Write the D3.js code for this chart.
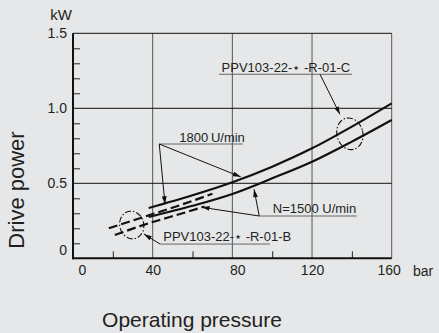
<!DOCTYPE html>
<html><head><meta charset="utf-8">
<script src="https://cdn.jsdelivr.net/npm/d3@7"></script>
<style>
html,body{margin:0;padding:0;background:#e6e7e9;}
svg{display:block;font-family:"Liberation Sans",Arial,Helvetica,sans-serif;}
</style></head>
<body>
<script>
// ---- data ----
const pressureC = [38, 60, 80, 100, 120, 140, 160];
const power1800C = [0.335, 0.42, 0.507, 0.611, 0.733, 0.878, 1.033];
const power1500C = [0.275, 0.35, 0.429, 0.533, 0.644, 0.778, 0.922];
const pressure1800B = [18, 40, 55, 70];
const power1800B = [0.20, 0.295, 0.36, 0.43];
const pressure1500B = [21, 40, 55, 66];
const power1500B = [0.155, 0.242, 0.30, 0.345];
const xTicks = [0, 40, 80, 120, 160];
const xMinor = [20, 60, 100, 140];
const yTicks = [0, 0.5, 1.0, 1.5];
const yTickLabels = ["0", "0.5", "1.0", "1.5"];
const yMinor = [0.1,0.2,0.3,0.4,0.6,0.7,0.8,0.9,1.1,1.2,1.3,1.4];

const W = 439, H = 333;
const m = {left: 73, right: 47.3, top: 33.3, bottom: 74.7};
const svg = d3.select("body").append("svg").attr("width", W).attr("height", H);
svg.append("rect").attr("width", W).attr("height", H).attr("fill", "#e6e7e9");

const x = d3.scaleLinear().domain([0, 160]).range([m.left, W - m.right]);
const y = d3.scaleLinear().domain([0, 1.5]).range([H - m.bottom, m.top]);
const txt = "#231f20";

// grid: vertical
svg.append("g").selectAll("line").data([40, 80, 120, 160]).join("line")
  .attr("x1", d => x(d)).attr("x2", d => x(d)).attr("y1", y(0)).attr("y2", y(1.5))
  .attr("stroke", "#555").attr("stroke-width", 1);
// grid: horizontal
svg.append("g").selectAll("line").data([0.5, 1.0, 1.5]).join("line")
  .attr("x1", x(0)).attr("x2", x(160)).attr("y1", d => y(d)).attr("y2", d => y(d))
  .attr("stroke", "#111").attr("stroke-width", 1);

// minor ticks (inward)
const yMinorAxis = d3.axisLeft(y).tickValues(yMinor).tickSize(-7).tickFormat("");
svg.append("g").attr("transform", `translate(${x(0)},0)`).call(yMinorAxis)
  .call(g => g.select(".domain").remove())
  .call(g => g.selectAll("line").attr("stroke", "#222"));
const xMinorAxis = d3.axisBottom(x).tickValues(xMinor).tickSize(-7).tickFormat("");
svg.append("g").attr("transform", `translate(0,${y(0)})`).call(xMinorAxis)
  .call(g => g.select(".domain").remove())
  .call(g => g.selectAll("line").attr("stroke", "#222"));

// tick labels
const yAxis = d3.axisLeft(y).tickValues(yTicks).tickSize(0).tickPadding(6)
  .tickFormat((d, i) => yTickLabels[i]);
svg.append("g").attr("transform", `translate(${x(0)},0)`).call(yAxis)
  .call(g => g.select(".domain").remove())
  .call(g => g.selectAll("text").attr("font-size", 14).attr("fill", txt)
    .attr("font-family", "Liberation Sans, Arial, sans-serif")
    .attr("dy", d => d === 0 ? "-0.25em" : "0.32em"));
const xAxis = d3.axisBottom(x).tickValues(xTicks).tickSize(0).tickPadding(7)
  .tickFormat(d3.format("d"));
svg.append("g").attr("transform", `translate(0,${y(0)})`).call(xAxis)
  .call(g => g.select(".domain").remove())
  .call(g => g.selectAll("text").attr("font-size", 14).attr("fill", txt)
    .attr("font-family", "Liberation Sans, Arial, sans-serif")
    .attr("dx", d => d === 0 ? 9 : (d === 80 ? 5 : (d === 160 ? -3 : 0))));

// main axes (thick)
svg.append("line").attr("x1", x(0)).attr("x2", x(0)).attr("y1", y(0) + 1).attr("y2", y(1.5))
  .attr("stroke", "#111").attr("stroke-width", 2);
svg.append("line").attr("x1", x(0) - 1).attr("x2", x(160)).attr("y1", y(0)).attr("y2", y(0))
  .attr("stroke", "#111").attr("stroke-width", 2);

// units and titles
svg.append("text").attr("x", x(0) - 1).attr("y", 20).attr("text-anchor", "end")
  .attr("font-size", 15).attr("fill", txt).text("kW");
svg.append("text").attr("x", 413).attr("y", y(0) + 18).attr("font-size", 14)
  .attr("fill", txt).text("bar");
svg.append("text").attr("x", 192).attr("y", 327).attr("text-anchor", "middle")
  .attr("font-size", 21).attr("fill", txt).text("Operating pressure");
svg.append("text").attr("transform", "translate(24,190) rotate(-90)").attr("text-anchor", "middle")
  .attr("font-size", 22).attr("fill", txt).text("Drive power");

// curves
const line = d3.line().x(d => x(d[0])).y(d => y(d[1])).curve(d3.curveMonotoneX);
const curves = [
  {p: pressure1800B, v: power1800B, dash: "9,4"},
  {p: pressure1500B, v: power1500B, dash: "9,4"},
  {p: pressureC, v: power1800C, dash: null},
  {p: pressureC, v: power1500C, dash: null}
];
curves.forEach(c => {
  svg.append("path").datum(d3.zip(c.p, c.v)).attr("d", line)
    .attr("fill", "none").attr("stroke", "#111").attr("stroke-width", 2.2)
    .attr("stroke-dasharray", c.dash);
});

// arrow marker
svg.append("defs").append("marker").attr("id", "arr").attr("viewBox", "0 0 10 6")
  .attr("refX", 10).attr("refY", 3).attr("markerWidth", 8).attr("markerHeight", 5)
  .attr("markerUnits", "userSpaceOnUse").attr("orient", "auto")
  .append("path").attr("d", "M0,0 L10,3 L0,6 Z").attr("fill", "#111");

// annotations (in data units)
const annLabels = [
  {t: "PPV103-22-\u22C6 -R-01-C", tx: 74.6, ty: 1.244, u0: 73.3, u1: 140, uy: 1.227,
   leads: [[124, 1.227, 134, 0.96]]},
  {t: "1800\u2009U/min", tx: 53.4, ty: 0.777, u0: 43.3, u1: 85.3, uy: 0.762,
   leads: [[43.3, 0.762, 84.2, 0.543], [43.3, 0.762, 46.2, 0.36]]},
  {t: "N=1500 U/min", tx: 100.3, ty: 0.30, u0: 93.5, u1: 142.4, uy: 0.282,
   leads: [[93.5, 0.282, 90.9, 0.46], [93.5, 0.282, 64.6, 0.34]]},
  {t: "PPV103-22-\u22C6 -R-01-B", tx: 45.3, ty: 0.115, u0: 43.7, u1: 98.9, uy: 0.095,
   leads: [[43.7, 0.095, 35.6, 0.162]]}
];
annLabels.forEach(a => {
  svg.append("text").attr("x", x(a.tx)).attr("y", y(a.ty)).attr("font-size", 13)
    .attr("fill", txt).text(a.t);
  svg.append("line").attr("x1", x(a.u0)).attr("x2", x(a.u1)).attr("y1", y(a.uy)).attr("y2", y(a.uy))
    .attr("stroke", "#666").attr("stroke-width", 1);
  a.leads.forEach(l => {
    svg.append("line").attr("x1", x(l[0])).attr("y1", y(l[1])).attr("x2", x(l[2])).attr("y2", y(l[3]))
      .attr("stroke", "#111").attr("stroke-width", 1).attr("marker-end", "url(#arr)");
  });
});

// dash-dot ellipses
const ellipses = [{cx: 139, cy: 0.83, rx: 13, ry: 16}, {cx: 29.5, cy: 0.222, rx: 12, ry: 14}];
ellipses.forEach(e => {
  svg.append("ellipse")
    .attr("transform", `translate(${x(e.cx)},${y(e.cy)}) rotate(-14)`)
    .attr("rx", e.rx).attr("ry", e.ry).attr("fill", "none")
    .attr("stroke", "#111").attr("stroke-width", 1.1).attr("stroke-dasharray", "6,2,1.5,2");
});
</script>
</body></html>
